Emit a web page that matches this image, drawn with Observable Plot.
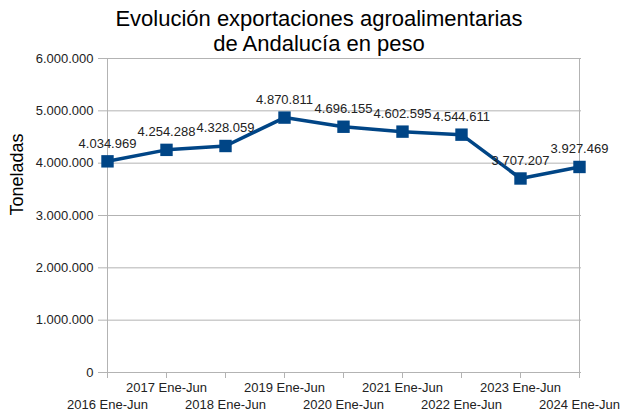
<!DOCTYPE html>
<html>
<head>
<meta charset="utf-8">
<script src="https://cdn.jsdelivr.net/npm/d3@7"></script>
<script src="https://cdn.jsdelivr.net/npm/@observablehq/plot@0.6"></script>
<style>
  html, body { margin: 0; padding: 0; background: #fff; }
  body { width: 620px; height: 412px; overflow: hidden; font-family: "Liberation Sans", Arial, sans-serif; }
  #title { height: 50px; padding-top: 6px; box-sizing: border-box; text-align: center; font-size: 22px; line-height: 25px; color: #000; padding-left: 18px; }
  svg { display: block; }
</style>
</head>
<body>
<div id="title">Evolución exportaciones agroalimentarias<br>de Andalucía en peso</div>
<div id="chart"></div>
<script>
const categories = ["2016 Ene-Jun", "2017 Ene-Jun", "2018 Ene-Jun", "2019 Ene-Jun", "2020 Ene-Jun", "2021 Ene-Jun", "2022 Ene-Jun", "2023 Ene-Jun", "2024 Ene-Jun"];
const values = [4034969, 4254288, 4328059, 4870811, 4696155, 4602595, 4544611, 3707207, 3927469];
const yTicks = [0, 1000000, 2000000, 3000000, 4000000, 5000000, 6000000];
const yLabel = "Toneladas";

const data = categories.map((c, i) => ({cat: c, value: values[i]}));
const fmt = d => d3.format(",")(d).replace(/,/g, ".");
const grid = "#b3b3b3";
const fs = 13;

const chart = Plot.plot({
  width: 620,
  height: 362,
  marginTop: 8,
  marginBottom: 40,
  marginLeft: 104,
  marginRight: 39,
  style: {fontFamily: "'Liberation Sans', Arial, sans-serif", background: "#fff"},
  x: {type: "point", domain: categories, padding: 0, axis: null},
  y: {domain: [0, 6000000], axis: null},
  marks: [
    Plot.gridY(yTicks, {stroke: grid, strokeOpacity: 1}),
    Plot.ruleX([categories[0], categories[categories.length - 1]], {stroke: grid, strokeWidth: 1}),
    Plot.axisY(yTicks, {tickSize: 6, tickPadding: 5, tickFormat: fmt, stroke: grid, fill: "#222", fontSize: fs, label: null}),
    Plot.axisX(categories, {tickSize: 6, tickFormat: () => "", stroke: grid, label: null}),
    Plot.axisX(categories.filter((d, i) => i % 2 === 1), {tickSize: 0, tickPadding: 10, fill: "#222", fontSize: fs, label: null}),
    Plot.axisX(categories.filter((d, i) => i % 2 === 0), {tickSize: 0, tickPadding: 27, fill: "#222", fontSize: fs, label: null}),
    Plot.line(data, {x: "cat", y: "value", stroke: "#004586", strokeWidth: 3.5}),
    Plot.dot(data, {x: "cat", y: "value", symbol: "square", r: 7, fill: "#004586", stroke: "none"}),
    Plot.text(data, {x: "cat", y: "value", text: d => fmt(d.value), dy: -18, fontSize: fs, fill: "#222"}),
    Plot.text([yLabel], {frameAnchor: "left", rotate: -90, dx: -87, fontSize: 18, fill: "#000"})
  ]
});
document.getElementById("chart").appendChild(chart);
</script>
</body>
</html>
